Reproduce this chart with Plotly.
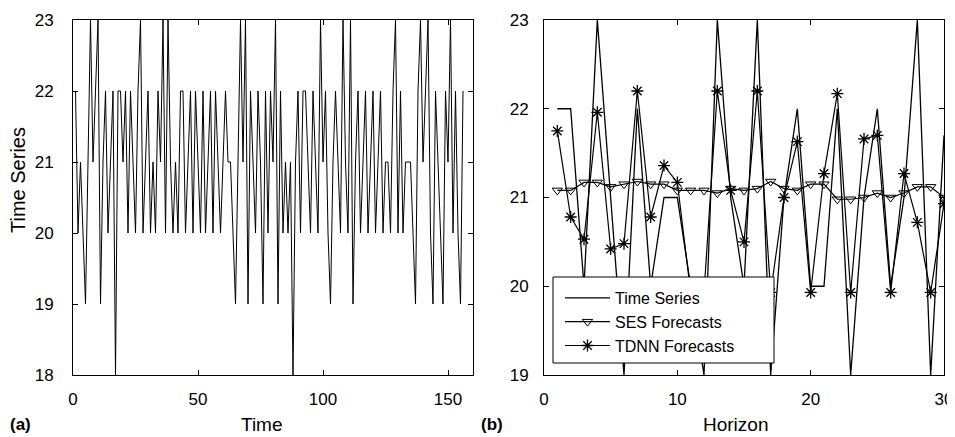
import plotly.graph_objects as go

# ---------------- data ----------------
time_idx = list(range(1, 157))
series_a = [
    22, 20, 21, 20, 19, 21, 23, 21, 22, 23,
    19, 21, 22, 20, 21, 22, 18, 22, 22, 21,
    22, 20, 22, 21, 20, 22, 23, 20, 21, 22,
    20, 21, 20, 22, 21, 23, 20, 23, 21, 20,
    21, 20, 22, 22, 20, 21, 22, 20, 22, 21,
    20, 22, 20, 21, 22, 20, 22, 21, 20, 21,
    22, 21, 21, 20, 19, 21, 23, 21, 23, 19,
    22, 21, 20, 22, 21, 19, 22, 20, 22, 21,
    23, 19, 22, 20, 21, 20, 21, 18, 21, 22,
    20, 22, 22, 21, 20, 22, 21, 20, 23, 21,
    22, 20, 19, 21, 22, 21, 20, 23, 21, 20,
    23, 19, 21, 22, 20, 21, 22, 20, 21, 22,
    20, 21, 22, 20, 21, 21, 20, 22, 23, 20,
    22, 20, 21, 21, 21, 20, 19, 22, 23, 21,
    22, 23, 20, 19, 22, 21, 20, 19, 22, 21,
    23, 20, 22, 20, 19, 22,
]

horizon = list(range(1, 31))
series_b = [22, 22, 20, 23, 21, 19, 22, 20, 21, 21,
            20, 19, 23, 21, 20, 23, 19, 21, 22, 20,
            20, 22, 19, 21, 22, 20, 21, 23, 19, 21.7]
ses_fc = [21.08, 21.08, 21.17, 21.17, 21.12, 21.15, 21.18, 21.15, 21.15, 21.08,
          21.08, 21.08, 21.05, 21.10, 21.08, 21.10, 21.18, 21.10, 21.08, 21.15,
          21.15, 20.98, 20.98, 21.00, 21.05, 21.00, 21.05, 21.12, 21.12, 21.00]
tdnn_fc = [21.75, 20.78, 20.53, 21.96, 20.42, 20.48, 22.20, 20.78, 21.36, 21.17,
           19.93, 19.93, 22.20, 21.08, 20.50, 22.20, 19.93, 21.00, 21.63, 19.93,
           21.27, 22.17, 19.93, 21.66, 21.70, 19.93, 21.27, 20.72, 19.93, 20.93]

x_ticks_a = [0, 50, 100, 150]
y_ticks_a = [18, 19, 20, 21, 22, 23]
x_ticks_b = [0, 10, 20, 30]
y_ticks_b = [19, 20, 21, 22, 23]

# ---------------- figure ----------------
# The page body keeps an 8px default margin, so the figure is sized to the
# window minus that offset and positions below are given in window pixels.
OFF = 8
W, H = 955 - OFF, 437 - OFF
FONT = "Arial, Liberation Sans, sans-serif"

fig = go.Figure()

fig.add_trace(go.Scatter(x=time_idx, y=series_a, mode="lines",
                         line=dict(color="black", width=1),
                         showlegend=False, xaxis="x", yaxis="y"))

fig.add_trace(go.Scatter(x=horizon, y=series_b, mode="lines", name="Time Series",
                         line=dict(color="black", width=1.3),
                         xaxis="x2", yaxis="y2"))
fig.add_trace(go.Scatter(x=horizon, y=ses_fc, mode="lines+markers", name="SES Forecasts",
                         line=dict(color="black", width=1.2),
                         marker=dict(symbol="triangle-down-open", size=9, color="black",
                                     line=dict(width=1, color="black")),
                         xaxis="x2", yaxis="y2"))
fig.add_trace(go.Scatter(x=horizon, y=tdnn_fc, mode="lines+markers", name="TDNN Forecasts",
                         line=dict(color="black", width=1.2),
                         marker=dict(symbol="asterisk-open", size=10, color="black",
                                     line=dict(width=1.3, color="black")),
                         xaxis="x2", yaxis="y2"))

def px_x(v):
    return (v - OFF) / W

def px_y(v):
    return 1 - (v - OFF) / H

axis_common = dict(showline=True, linecolor="black", linewidth=1, mirror="ticks",
                   ticks="inside", ticklen=5, tickcolor="black", tickwidth=1,
                   showgrid=False, zeroline=False, automargin=False,
                   tickfont=dict(family=FONT, size=17, color="black"))

fig.update_layout(
    width=W, height=H,
    paper_bgcolor="white", plot_bgcolor="white",
    margin=dict(l=0, r=0, t=0, b=0, autoexpand=False),
    font=dict(family=FONT, color="black"),
    xaxis=dict(domain=[px_x(73), px_x(473)], range=[0, 160], tickvals=x_ticks_a,
               anchor="y", ticklabelstandoff=9, **axis_common),
    yaxis=dict(domain=[px_y(375), px_y(20)], range=[18, 23], tickvals=y_ticks_a,
               anchor="x", ticklabelstandoff=15, **axis_common),
    xaxis2=dict(domain=[px_x(544), px_x(944)], range=[0, 30], tickvals=x_ticks_b,
                anchor="y2", ticklabelstandoff=9, **axis_common),
    yaxis2=dict(domain=[px_y(375), px_y(20)], range=[19, 23], tickvals=y_ticks_b,
                anchor="x2", ticklabelstandoff=11, **axis_common),
    legend=dict(x=px_x(560), y=px_y(281), xanchor="left", yanchor="top",
                bgcolor="rgba(0,0,0,0)", borderwidth=0, itemwidth=45,
                font=dict(family=FONT, size=16, color="black"),
                tracegroupgap=0),
    shapes=[dict(type="rect", xref="paper", yref="paper",
                 x0=px_x(553), x1=px_x(774), y0=px_y(363), y1=px_y(277),
                 line=dict(color="black", width=1), fillcolor="white", layer="above")],
    annotations=[
        dict(text="Time Series", x=px_x(18), y=px_y(180), xref="paper", yref="paper",
             textangle=-90, showarrow=False, font=dict(family=FONT, size=20, color="black"),
             xanchor="center", yanchor="middle"),
        dict(text="Time", x=px_x(262), y=px_y(424), xref="paper", yref="paper",
             showarrow=False, font=dict(family=FONT, size=19, color="black"),
             xanchor="center", yanchor="middle"),
        dict(text="Horizon", x=px_x(735), y=px_y(424), xref="paper", yref="paper",
             showarrow=False, font=dict(family=FONT, size=19, color="black"),
             xanchor="center", yanchor="middle"),
        dict(text="<b>(a)</b>", x=px_x(20), y=px_y(424), xref="paper", yref="paper",
             showarrow=False, font=dict(family=FONT, size=17, color="black"),
             xanchor="center", yanchor="middle"),
        dict(text="<b>(b)</b>", x=px_x(492), y=px_y(424), xref="paper", yref="paper",
             showarrow=False, font=dict(family=FONT, size=17, color="black"),
             xanchor="center", yanchor="middle"),
    ],
)

fig.write_html("out.html")
